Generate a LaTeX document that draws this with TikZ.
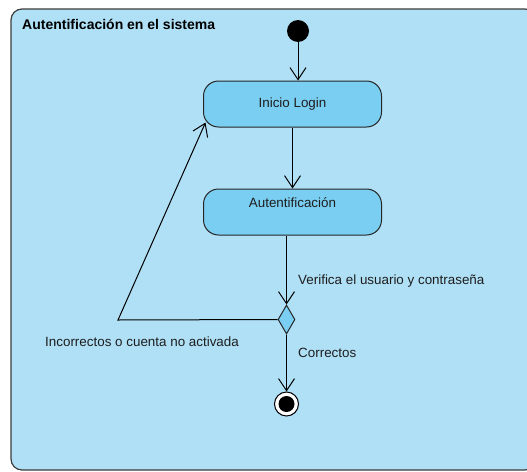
\documentclass[tikz,border=0pt]{standalone}
\usepackage{fontspec}
\setmainfont{Liberation Sans}
\usetikzlibrary{arrows.meta,shapes.geometric,calc}
\definecolor{bgblue}{RGB}{176,224,246}
\definecolor{nodeblue}{RGB}{122,206,242}
\definecolor{framegray}{RGB}{60,60,60}
\definecolor{txt}{RGB}{30,30,30}
\begin{document}
\begin{tikzpicture}[x=1pt,y=-1pt,
  every node/.style={text=txt,font=\fontsize{13.4}{15}\selectfont},
  action/.style={draw=black!85,fill=nodeblue,rounded corners=15pt,line width=1pt,
    minimum width=178pt,minimum height=46pt,inner sep=0pt},
  decision/.style={diamond,draw=black!85,fill=nodeblue,line width=1pt,
    minimum width=17pt,minimum height=29pt,inner sep=0pt},
  startnode/.style={circle,fill=black,minimum size=22pt,inner sep=0pt},
  endnode/.style={circle,draw=black,fill=white,line width=1pt,minimum size=24pt,inner sep=0pt,
    path picture={\fill[black] (path picture bounding box.center) circle (8pt);}},
  flow/.style={line width=1pt,draw=black,-{Straight Barb[length=12pt,width=16pt,line width=1pt]}},
  edgelabel/.style={anchor=west,inner sep=0pt}]
\useasboundingbox (0,0) rectangle (527,471);
\begin{scope}
\clip (0,0) rectangle (527,471);
\draw[framegray,line width=1.2pt,fill=bgblue,rounded corners=11pt] (11,9) rectangle (536,470);
\end{scope}
\node[anchor=west,inner sep=0pt,font=\bfseries\fontsize{14}{16}\selectfont,text=black] (title) at (22,24) {Autentificación en el sistema};
\node[startnode] (start) at (298,31) {};
\node[action] (login) at (292.5,104) {Inicio Login};
\node[action,label={[anchor=center,yshift=-14pt,inner sep=0pt]north:Autentificación}] (auth) at (292.5,212) {};
\node[decision] (dec) at (286.5,319.5) {};
\node[endnode] (fin) at (286.5,404) {};
\coordinate (bend) at (118,320);
\draw[flow] (start) -- (start |- login.north);
\draw[flow] (login) -- (auth);
\draw[flow] (dec |- auth.south) -- (dec.north);
\draw[flow] (dec.south) -- (fin.north);
\draw[flow] (dec.west) -- (bend) -- ($(login.south west)+(2.5,-5)$);
\node[edgelabel] (lverif) at (298,281) {Verifica el usuario y contraseña};
\node[edgelabel] (lcorr) at (298,353) {Correctos};
\node[edgelabel] (lincorr) at (45,342) {Incorrectos o cuenta no activada};
\end{tikzpicture}
\end{document}
